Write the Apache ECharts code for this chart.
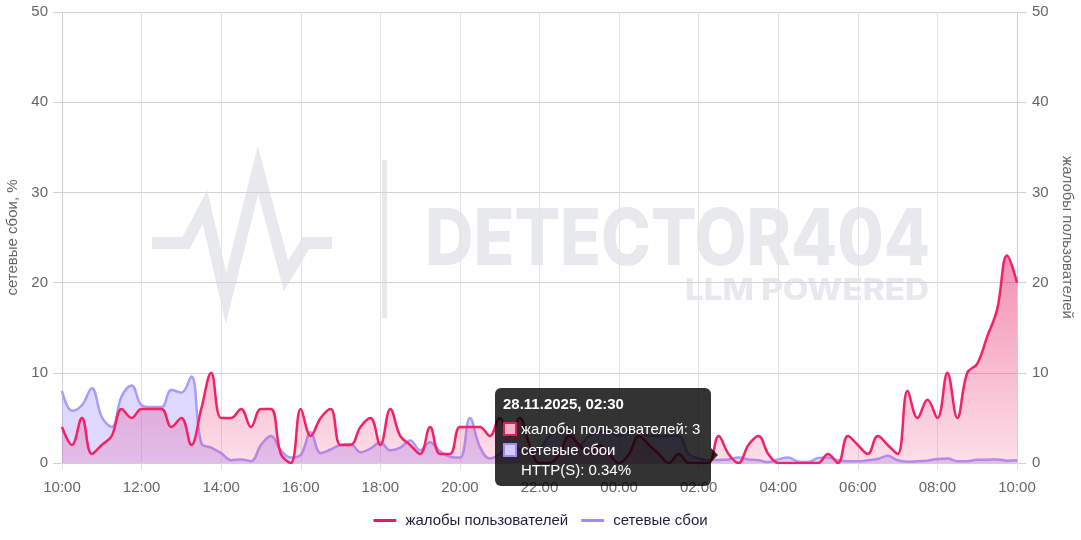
<!DOCTYPE html>
<html>
<head>
<meta charset="utf-8">
<script src="https://cdn.jsdelivr.net/npm/echarts@6/dist/echarts.min.js"></script>
<style>
html,body{margin:0;padding:0;background:#fff;}
#chart{width:1081px;height:540px;}
</style>
</head>
<body>
<div id="chart"></div>
<script>
// ---- data ----
const START = new Date(2025, 10, 27, 10, 0);   // 27.11.2025 10:00, 15-minute steps
const STEP_MIN = 15;
const POINTS = 97;
const categories = [];
for (let i = 0; i < POINTS; i++) {
  const d = new Date(START.getTime() + i * STEP_MIN * 60000);
  const p = n => String(n).padStart(2, '0');
  categories.push(p(d.getDate()) + '.' + p(d.getMonth() + 1) + '.' + d.getFullYear() + ', ' + p(d.getHours()) + ':' + p(d.getMinutes()));
}
const complaints = [
  4,2,5,1,2,3,6,5,6,6,6,4,5,2,6,10,
  5,5,6,4,6,6,1,0,6,3,5,6,2,2,4,5,
  2,6,3,2,1,4,1,1,4,4,4,3,5,3,5,2,
  0,0,1,3,2,1,2,1,0,1,3,2,1,0,1,0,
  0,0,3,1,0,2,3,1,0,0,0,0,0,1,0,3,
  2,1,3,2,1,8,5,7,5,10,5,10,11,14,17,23,20
];
const failures = [
  8,5.8,6.4,8.3,5.1,4,7.4,8.6,6.4,6.2,6.2,8.1,7.8,9.6,2.2,1.7,
  1.1,0.3,0.4,0.2,2,3,1.4,0.6,0.9,3.4,1.1,1.5,2,2.1,1.2,1.6,
  2.3,1.4,1.7,2.5,1.4,2.3,1.3,0.7,0.6,5,1.8,0.5,1,2,1.5,1,
  1.5,3,3.5,3.5,2,3,3.5,3.5,3,3.5,3.5,3,3,3,3,1,
  0.5,0.3,0.34,0.4,0.6,0.4,0.3,0.1,0.4,0.6,0.15,0.1,0.55,0.6,0.3,0.2,
  0.2,0.3,0.45,0.8,0.3,0.15,0.2,0.25,0.45,0.5,0.2,0.2,0.35,0.35,0.4,0.25,0.3
];
const yTicks = [0, 10, 20, 30, 40, 50];
const NAME_RED = 'жалобы пользователей';
const NAME_BLUE = 'сетевые сбои';
const LEFT_AXIS_NAME = 'сетевые сбои, %';
const RIGHT_AXIS_NAME = 'жалобы пользователей';
const TIP_INDEX = 66;
const PROTO = 'HTTP(S)';

// ---- styles ----
const RED = '#de1f5c';
const BLUE = '#9d8cff';
const FONT = '"Liberation Sans", Arial, Helvetica, sans-serif';
const FS = 15;
const WM = '#e8e9ed';

function fitScale(text, font, target) {
  const c = document.createElement('canvas').getContext('2d');
  c.font = font;
  return target / c.measureText(text).width;
}
const wmFont1 = '800 78px Inter';
const wmFont2 = '800 30px Inter';

const chart = echarts.init(document.getElementById('chart'), null, {renderer: 'canvas'});

const yAxisCommon = {
  type: 'value', min: yTicks[0], max: yTicks[yTicks.length - 1], interval: 10,
  nameLocation: 'middle',
  nameTextStyle: {color: '#666', fontSize: FS, fontFamily: FONT},
  axisLine: {show: true, lineStyle: {color: '#d0d0d0'}},
  axisTick: {show: true, length: 9, lineStyle: {color: '#d0d0d0'}},
  axisLabel: {color: '#666', fontSize: FS, fontFamily: FONT, margin: 14}
};

const option = {
  animation: false,
  textStyle: {fontFamily: FONT},
  grid: {left: 62, right: 64, top: 12, bottom: 77, containLabel: false, outerBoundsMode: 'none'},
  graphic: [
    {type: 'polyline', z: -10, silent: true,
     shape: {points: [[152,243],[186,243],[205,207],[226,298],[258,170],[286,276],[306,243],[332,243]]},
     style: {stroke: WM, lineWidth: 12, fill: null, lineJoin: 'miter'}},
    {type: 'rect', z: -10, silent: true, shape: {x: 382, y: 160, width: 5, height: 158}, style: {fill: WM}},
    {type: 'text', z: -10, silent: true, x: 425, y: 242, scaleX: fitScale('DETECTOR404', wmFont1, 505), originX: 0,
     style: {text: 'DETECTOR404', font: wmFont1, fill: WM, align: 'left', verticalAlign: 'middle'}},
    {type: 'text', z: -10, silent: true, x: 929, y: 291, scaleX: fitScale('LLM POWERED', wmFont2, 244), originX: 0,
     style: {text: 'LLM POWERED', font: wmFont2, fill: WM, align: 'right', verticalAlign: 'middle'}}
  ],
  legend: {
    data: [NAME_RED, NAME_BLUE],
    bottom: 7, left: 'center',
    icon: 'roundRect', itemWidth: 23, itemHeight: 3, itemGap: 13,
    textStyle: {color: '#1f1d3d', fontSize: FS, fontFamily: FONT, padding: [0, 0, 0, 4]}
  },
  tooltip: {
    trigger: 'axis',
    triggerOn: 'none',
    alwaysShowContent: true,
    axisPointer: {type: 'none'},
    padding: 0, borderWidth: 0, backgroundColor: 'transparent',
    transitionDuration: 0,
    extraCssText: 'box-shadow:none;border-radius:0;',
    position: function () { return [495, 388]; },
    formatter: function (params) {
      const red = params.find(p => p.seriesName === NAME_RED);
      const blue = params.find(p => p.seriesName === NAME_BLUE);
      const box = (bg, bd) => '<span style="display:inline-block;box-sizing:border-box;width:14px;height:14px;background:' + bg + ';border:2px solid ' + bd + ';margin-right:4px;vertical-align:-2px;"></span>';
      return '<div style="position:relative;box-sizing:border-box;width:216px;height:98px;background:rgba(0,0,0,0.8);border-radius:6px;padding:6px 8px;color:#fff;font-family:' + FONT.replace(/"/g, "'") + ';">' +
        '<div style="font-weight:bold;font-size:15px;line-height:20px;margin-bottom:5px;white-space:nowrap;">' + params[0].axisValue + '</div>' +
        '<div style="font-size:15px;line-height:20.5px;white-space:nowrap;">' + box('#f4b3c8', RED) + red.seriesName + ': ' + red.value + '</div>' +
        '<div style="font-size:15px;line-height:20.5px;white-space:nowrap;">' + box('#d3ccff', BLUE) + blue.seriesName + '</div>' +
        '<div style="font-size:15px;line-height:20.5px;white-space:nowrap;padding-left:18px;">' + PROTO + ': ' + blue.value + '%</div>' +
        '<div style="position:absolute;right:-7px;top:60px;width:0;height:0;border-top:7px solid transparent;border-bottom:7px solid transparent;border-left:7px solid rgba(0,0,0,0.8);"></div>' +
        '</div>';
    }
  },
  xAxis: {
    type: 'category', data: categories, boundaryGap: false,
    axisLine: {show: true, lineStyle: {color: '#d0d0d0'}},
    axisTick: {show: true, interval: 7, length: 7, lineStyle: {color: '#e2e2e2'}},
    axisLabel: {interval: 7, color: '#666', fontSize: FS, fontFamily: FONT, margin: 17,
      formatter: v => v.split(', ')[1]},
    splitLine: {show: true, interval: 7, lineStyle: {color: '#e4e4e4'}}
  },
  yAxis: [
    Object.assign({}, yAxisCommon, {position: 'left', name: LEFT_AXIS_NAME, nameGap: 36,
      splitLine: {show: true, lineStyle: {color: '#d2d2d2'}}}),
    Object.assign({}, yAxisCommon, {position: 'right', name: RIGHT_AXIS_NAME, nameGap: 42, nameRotate: -90,
      axisLabel: Object.assign({}, yAxisCommon.axisLabel, {margin: 15}),
      splitLine: {show: false}})
  ],
  series: [
    {
      name: NAME_RED, type: 'line', yAxisIndex: 1, data: complaints,
      smooth: 0.4, symbol: 'none', z: 3, color: RED,
      lineStyle: {color: RED, width: 2.5},
      areaStyle: {color: {type: 'linear', x: 0, y: 0, x2: 0, y2: 1,
        colorStops: [{offset: 0, color: 'rgba(212,40,100,0.75)'}, {offset: 1, color: 'rgba(212,40,100,0.22)'}]}}
    },
    {
      name: NAME_BLUE, type: 'line', yAxisIndex: 0, data: failures,
      smooth: 0.4, symbol: 'none', z: 2, color: BLUE,
      lineStyle: {color: BLUE, width: 2.5},
      areaStyle: {color: 'rgba(140,120,255,0.45)'}
    }
  ]
};
chart.setOption(option);
function showTip() { chart.dispatchAction({type: 'showTip', seriesIndex: 0, dataIndex: TIP_INDEX}); }
showTip();
setTimeout(showTip, 50);
</script>
</body>
</html>
